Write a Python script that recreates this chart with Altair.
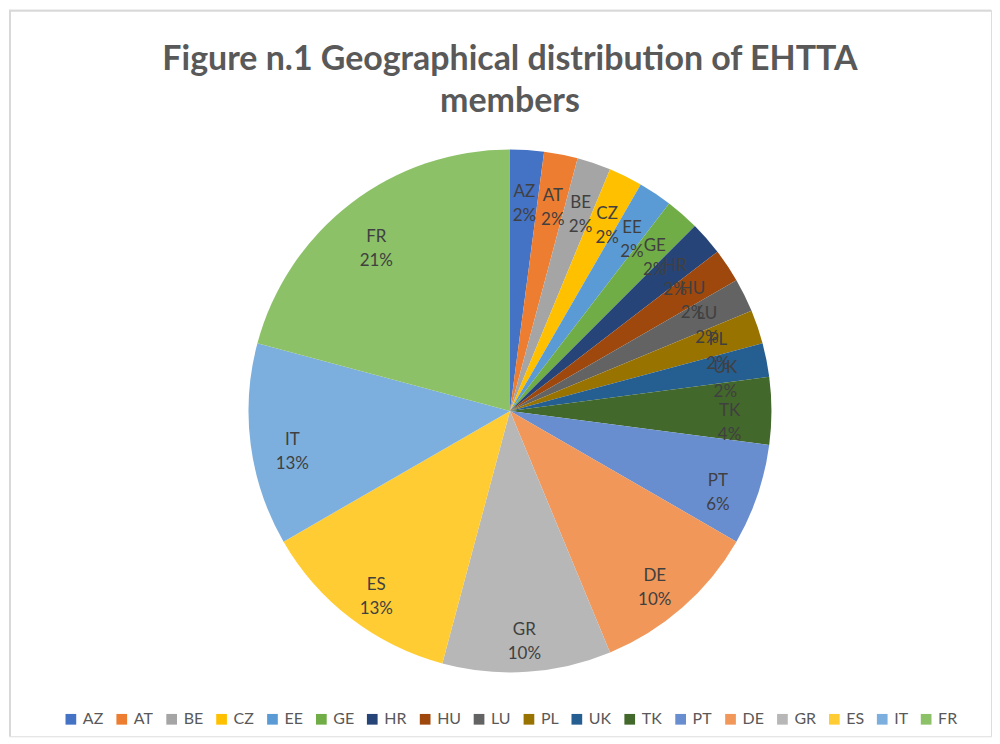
import altair as alt
import pandas as pd

countries = ["AZ", "AT", "BE", "CZ", "EE", "GE", "HR", "HU", "LU", "PL", "UK",
             "TK", "PT", "DE", "GR", "ES", "IT", "FR"]
members = [1, 1, 1, 1, 1, 1, 1, 1, 1, 1, 1, 2, 3, 5, 5, 6, 6, 10]
colors = ["#4472C4", "#ED7D31", "#A5A5A5", "#FFC000", "#5B9BD5", "#70AD47",
          "#264478", "#9E480E", "#636363", "#997300", "#255E91", "#43682B",
          "#698ED0", "#F1975A", "#B7B7B7", "#FFCD33", "#7CAFDD", "#8CC168"]
title_lines = ["Figure n.1 Geographical distribution of EHTTA", "members"]

df = pd.DataFrame({"country": countries, "members": members,
                   "idx": list(range(len(countries)))})

FONT = "Lato, sans-serif"
W, H = 984, 728
CX, CY, R = 502, 402, 262

base = alt.Chart(df).transform_joinaggregate(
    total="sum(members)"
).transform_calculate(
    label="datum.country + '\\n' + format(datum.members / datum.total, '.0%')"
)

theta = alt.Theta("members:Q", stack=True)
order = alt.Order("idx:Q", sort="ascending")

pie = base.mark_arc(outerRadius=R).encode(
    theta=theta,
    order=order,
    x=alt.value(CX),
    y=alt.value(CY),
    color=alt.Color(
        "country:N",
        scale=alt.Scale(domain=countries, range=colors),
        sort=countries,
        legend=alt.Legend(
            title=None, orient="none", direction="horizontal", columns=18,
            legendX=54, legendY=703, symbolType="square", symbolSize=115,
            symbolStrokeWidth=0, labelFont=FONT, labelFontSize=16,
            labelColor="#595959", labelOffset=4, columnPadding=10,
            gridAlign="each",
        ),
    ),
)

labels = base.mark_text(
    radius=220, font=FONT, fontSize=17, color="#404040",
    lineBreak="\n", lineHeight=24, align="center", baseline="middle",
).encode(
    theta=theta,
    order=order,
    x=alt.value(CX),
    y=alt.value(CY),
    text="label:N",
)

title = alt.Chart(pd.DataFrame({"t": ["\n".join(title_lines)]})).mark_text(
    font=FONT, fontSize=34, fontWeight="bold", color="#595959",
    lineBreak="\n", lineHeight=42, align="center", baseline="alphabetic",
).encode(x=alt.value(502), y=alt.value(60), text="t:N")

frame_top = alt.Chart(pd.DataFrame({"f": [0]})).mark_rule(
    color="#D9D9D9", strokeWidth=2
).encode(x=alt.value(0), x2=alt.value(W), y=alt.value(1))

frame_left = alt.Chart(pd.DataFrame({"f": [0]})).mark_rule(
    color="#D9D9D9", strokeWidth=2
).encode(x=alt.value(1), y=alt.value(0), y2=alt.value(H))

chart = alt.layer(frame_top, frame_left, pie, labels, title).properties(
    width=W, height=H, padding=0
).configure_view(
    stroke=None
).configure(background="white")

chart.save("out.html", embed_options={"renderer": "svg", "actions": False})
